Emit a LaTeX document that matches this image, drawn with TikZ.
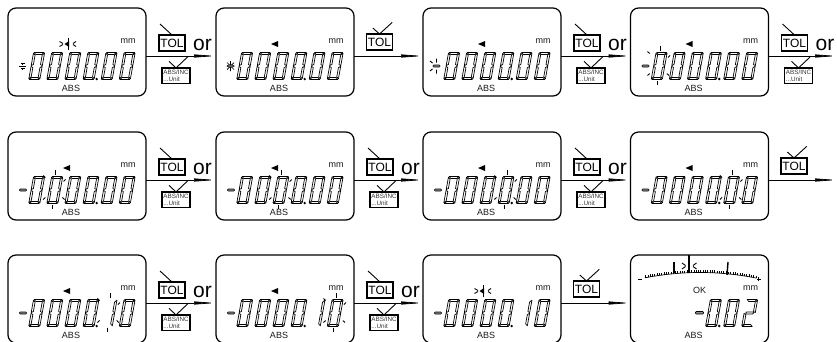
\documentclass[tikz,border=0pt]{standalone}
\usepackage{fontspec}
\setmainfont{Liberation Sans}
\usetikzlibrary{positioning,arrows.meta}

\tikzset{
    lcdpanel/.style={draw, line width=1.2pt, rounded corners=8pt, minimum width=138pt, minimum height=88pt, inner sep=0pt, outer sep=0pt},
    lcdseg/.style={draw, line width=0.7pt, line join=round},
    lcdtext/.style={inner sep=0pt, font=\fontsize{9}{9}\selectfont, text=black!90},
    flashtick/.style={line width=0.9pt},
    signbar/.style={draw, line width=0.6pt, fill=black!45, rounded corners=0.8pt},
    tolkey/.style={draw, line width=1.2pt, minimum width=26pt, minimum height=16pt, inner sep=0pt, outer sep=0pt, font=\fontsize{12}{12}\selectfont},
    inckey/.style={draw, line width=1.1pt, minimum width=28pt, minimum height=15.5pt, inner sep=0pt, outer sep=0pt, align=left, text=black!80, font=\fontsize{6.3}{7}\selectfont},
    orlabel/.style={anchor=base, inner sep=0pt, font=\fontsize{21}{21}\selectfont},
    pressmark/.style={line width=0.9pt},
    keyline/.style={line width=0.7pt, -{Triangle[length=22pt,width=3pt]}},
}

\newcommand{\lcdzero}[1]{
    \begin{scope}[shift={({20.5+18.1*(#1-1)},71.5)},xslant=0.18]
        \draw[lcdseg] (0.8,-27) -- (10.7,-27) -- (8.7,-25) -- (2.8,-25) -- cycle;
        \draw[lcdseg] (0.8,0) -- (10.7,0) -- (8.7,-2) -- (2.8,-2) -- cycle;
        \draw[lcdseg] (0.2,-26.3) -- (2.2,-24.4) -- (2.2,-15) -- (0.2,-13.9) -- cycle;
        \draw[lcdseg] (0.2,-0.7) -- (2.2,-2.6) -- (2.2,-12) -- (0.2,-13.1) -- cycle;
        \draw[lcdseg] (11.3,-26.3) -- (9.3,-24.4) -- (9.3,-15) -- (11.3,-13.9) -- cycle;
        \draw[lcdseg] (11.3,-0.7) -- (9.3,-2.6) -- (9.3,-12) -- (11.3,-13.1) -- cycle;
    \end{scope}
}
\newcommand{\lcdone}[1]{
    \begin{scope}[shift={({20.5+18.1*(#1-1)},71.5)},xslant=0.18]
        \draw[lcdseg] (11.3,-26.3) -- (9.3,-24.4) -- (9.3,-15) -- (11.3,-13.9) -- cycle;
        \draw[lcdseg] (11.3,-0.7) -- (9.3,-2.6) -- (9.3,-12) -- (11.3,-13.1) -- cycle;
    \end{scope}
}
\newcommand{\lcdtwo}[1]{
    \begin{scope}[shift={({20.5+18.1*(#1-1)},71.5)},xslant=0.18]
        \draw[lcdseg] (0.8,-27) -- (10.7,-27) -- (8.7,-25) -- (2.8,-25) -- cycle;
        \draw[lcdseg] (0.8,0) -- (10.7,0) -- (8.7,-2) -- (2.8,-2) -- cycle;
        \draw[lcdseg] (11.3,-26.3) -- (9.3,-24.4) -- (9.3,-15) -- (11.3,-13.9) -- cycle;
        \draw[lcdseg] (0.2,-0.7) -- (2.2,-2.6) -- (2.2,-12) -- (0.2,-13.1) -- cycle;
        \draw[lcdseg] (2.4,-14.5) -- (9,-14.5) -- (9.7,-13.5) -- (9,-12.5) -- (2.4,-12.5) -- (1.8,-13.5) -- cycle;
    \end{scope}
}
\newcommand{\lcdflash}[1]{
    \begin{scope}[shift={({21+18.1*(#1-1)},0)}]
        \draw[flashtick] (8.7,38) -- (8.7,42.5);
        \draw[flashtick] (5.7,72.5) -- (5.7,76.5);
        \draw[flashtick] (-4,43.5) -- (-1.8,45.5);
        \draw[flashtick] (-4,67.5) -- (-1.8,65.5);
        \draw[flashtick] (18.5,47.5) -- (16.5,49.5);
        \draw[flashtick] (17.5,67.5) -- (15.3,65.5);
    \end{scope}
}
\newcommand{\lcdtri}{\fill (55,36) -- (62,33) -- (62,39) -- cycle;}
\newcommand{\lcdtriflash}{
    \fill (56.5,36) -- (61,33) -- (61,39) -- cycle;
    \draw[flashtick] (60.5,30) -- (60.5,42);
    \draw[flashtick] (51.5,33.5) -- (55,35.5) (51.5,38.5) -- (55,36.5);
    \draw[flashtick] (68,33.5) -- (65,35.5) (68,38.5) -- (65,36.5);
}
\newcommand{\lcdminus}[1]{\draw[signbar] (#1,57) rectangle ++(7,2);}
\newcommand{\lcdbase}[1]{
    \node[lcdtext] (#1mm) at (120,33) {mm};
    \node[lcdtext] (#1abs) at (63,80) {ABS};
    \fill (88.7,71) circle (1.3);
}
\newcommand{\lcdzeros}[1]{\foreach \d in {#1} {\lcdzero{\d}}}
\newcommand{\keysor}[2]{
    \begin{scope}[shift={([yshift=#2]#1.east)}]
        \node[tolkey] (#1tol) at (26,-13) {TOL};
        \node[inckey] (#1inc) at (30,19.7) {ABS/INC\\...Unit};
        \node[orlabel] (#1or) at (56.5,-6) {or};
        \draw[pressmark] (#1tol.north) -- ++(-12,-11);
        \draw[pressmark] (#1inc.north) -- ++(-7,-6.6) (#1inc.north) -- ++(12.3,-11.7);
    \end{scope}
}
\newcommand{\keytol}[2]{
    \begin{scope}[shift={([yshift=#2]#1.east)}]
        \node[tolkey] (#1tol) at (25.5,-14) {TOL};
        \draw[pressmark] (#1tol.north) -- ++(-6.7,-6) (#1tol.north) -- ++(12.7,-11.6);
    \end{scope}
}

\begin{document}
\begin{tikzpicture}[x=1pt, y=-1pt]
    \useasboundingbox (0,0) rectangle (837,341);

    \node[lcdpanel, anchor=north west] (p11) at (8,8) {};
    \node[lcdpanel, right=70pt of p11] (p12) {};
    \node[lcdpanel, right=69pt of p12] (p13) {};
    \node[lcdpanel, right=69.5pt of p13] (p14) {};
    \node[lcdpanel, below=36pt of p11] (p21) {};
    \node[lcdpanel, right=70pt of p21] (p22) {};
    \node[lcdpanel, right=69pt of p22] (p23) {};
    \node[lcdpanel, right=69.5pt of p23] (p24) {};
    \node[lcdpanel, below=35pt of p21] (p31) {};
    \node[lcdpanel, right=70pt of p31] (p32) {};
    \node[lcdpanel, right=69pt of p32] (p33) {};
    \node[lcdpanel, right=69.5pt of p33] (p34) {};
    \coordinate (end1) at (837,56);
    \coordinate (end2) at (837,180);

    \draw[keyline] ([yshift=-4pt]p11.east) -- ([yshift=-4pt]p12.west);
    \draw[keyline] ([yshift=-4pt]p12.east) -- ([yshift=-4pt]p13.west);
    \draw[keyline] ([yshift=-4pt]p13.east) -- ([yshift=-4pt]p14.west);
    \draw[keyline] ([yshift=-4pt]p14.east) -- (end1);
    \draw[keyline] ([yshift=-4pt]p21.east) -- ([yshift=-4pt]p22.west);
    \draw[keyline] ([yshift=-4pt]p22.east) -- ([yshift=-4pt]p23.west);
    \draw[keyline] ([yshift=-4pt]p23.east) -- ([yshift=-4pt]p24.west);
    \draw[keyline] ([yshift=-4pt]p24.east) -- (end2);
    \draw[keyline] ([yshift=-4pt]p31.east) -- ([yshift=-4pt]p32.west);
    \draw[keyline] ([yshift=-4pt]p32.east) -- ([yshift=-4pt]p33.west);
    \draw[keyline] ([yshift=-4pt]p33.east) -- ([yshift=-4pt]p34.west);

    \keysor{p11}{-4pt}
    \keytol{p12}{-4pt}
    \keysor{p13}{-4pt}
    \keysor{p14}{-4pt}
    \keysor{p21}{-4pt}
    \keysor{p22}{-4pt}
    \keysor{p23}{-4pt}
    \keytol{p24}{-4pt}
    \keysor{p31}{-4pt}
    \keysor{p32}{-4pt}
    \keytol{p33}{-4pt}

    \begin{scope}[shift={(p11.north west)}]
        \lcdbase{p11}
        \lcdzeros{1,...,6}
        \lcdtriflash
        \draw[line width=0.7pt] (11,58) -- (18,58) (14.5,54.5) -- (14.5,56.5) (14.5,59.5) -- (14.5,61.5) (12.5,55.5) -- (16.5,55.5) (12.5,60.5) -- (16.5,60.5);
    \end{scope}
    \begin{scope}[shift={(p12.north west)}]
        \lcdbase{p12}
        \lcdzeros{1,...,6}
        \lcdtri
        \draw[line width=0.7pt] (10.5,58) -- (18.5,58) (14.5,53) -- (14.5,63) (11,54.5) -- (18,61.5) (11,61.5) -- (18,54.5);
        \draw[signbar] (11.5,57) rectangle ++(6,2);
    \end{scope}
    \begin{scope}[shift={(p13.north west)}]
        \lcdbase{p13}
        \lcdzeros{1,...,6}
        \lcdtri
        \lcdminus{10}
        \draw[flashtick] (13.5,50.5) -- (13.5,54.5) (13.5,61.5) -- (13.5,65.5) (7,53) -- (9.5,55) (7,63) -- (9.5,61);
    \end{scope}
    \begin{scope}[shift={(p14.north west)}]
        \lcdbase{p14}
        \lcdzeros{1,...,6}
        \lcdtri
        \lcdminus{11.5}
        \lcdflash{1}
    \end{scope}

    \begin{scope}[shift={(p21.north west)}]
        \lcdbase{p21}
        \lcdzeros{1,...,6}
        \lcdtri
        \lcdminus{11.5}
        \lcdflash{2}
    \end{scope}
    \begin{scope}[shift={(p22.north west)}]
        \lcdbase{p22}
        \lcdzeros{1,...,6}
        \lcdtri
        \lcdminus{11.5}
        \lcdflash{3}
    \end{scope}
    \begin{scope}[shift={(p23.north west)}]
        \lcdbase{p23}
        \lcdzeros{1,...,6}
        \lcdtri
        \lcdminus{11.5}
        \lcdflash{4}
    \end{scope}
    \begin{scope}[shift={(p24.north west)}]
        \lcdbase{p24}
        \lcdzeros{1,...,6}
        \lcdtri
        \lcdminus{11.5}
        \lcdflash{5}
    \end{scope}

    \begin{scope}[shift={(p31.north west)}]
        \lcdbase{p31}
        \lcdzeros{1,2,3,4,6}
        \lcdone{5}
        \lcdtri
        \lcdminus{11.5}
        \lcdflash{5}
    \end{scope}
    \begin{scope}[shift={(p32.north west)}]
        \lcdbase{p32}
        \lcdzeros{1,2,3,4,6}
        \lcdone{5}
        \lcdtri
        \lcdminus{11.5}
        \lcdflash{6}
    \end{scope}
    \begin{scope}[shift={(p33.north west)}]
        \lcdbase{p33}
        \lcdzeros{1,2,3,4,6}
        \lcdone{5}
        \lcdtriflash
        \lcdminus{11.5}
    \end{scope}
    \begin{scope}[shift={(p34.north west)}]
        \lcdbase{p34}
        \node[lcdtext] (p34ok) at (69,35.5) {OK};
        \lcdzeros{4,5}
        \lcdtwo{6}
        \draw[signbar] (65,56.5) rectangle ++(8,2.5);
        \draw[line width=0.7pt] plot[domain=14.5:126, samples=40] (\x, {17.5+0.00175*(\x-69.5)*(\x-69.5)});
        \foreach \t in {15,17.3,...,126} {
            \draw[line width=0.6pt] (\t, {17.5+0.00175*(\t-69.5)*(\t-69.5)}) -- ++(0,-2.4);
        }
        \draw[line width=1.4pt] (43.5,7) -- (43.5,17.5);
        \draw[line width=1.4pt] (58.5,0) -- (58.5,18);
        \draw[line width=1.4pt] (97.5,7) -- (96.5,20);
        \draw[flashtick] (51.5,8) -- (55,10.5) (51.5,14) -- (55,11.5);
        \draw[flashtick] (66,8) -- (62.5,10.5) (66,14) -- (62.5,11.5);
        \draw[line width=0.8pt] (7.5,24.3) -- (11.8,24.3);
        \draw[line width=0.8pt] (126,24) -- (130.5,24) (128.2,21.8) -- (128.2,26.2);
    \end{scope}
\end{tikzpicture}
\end{document}
